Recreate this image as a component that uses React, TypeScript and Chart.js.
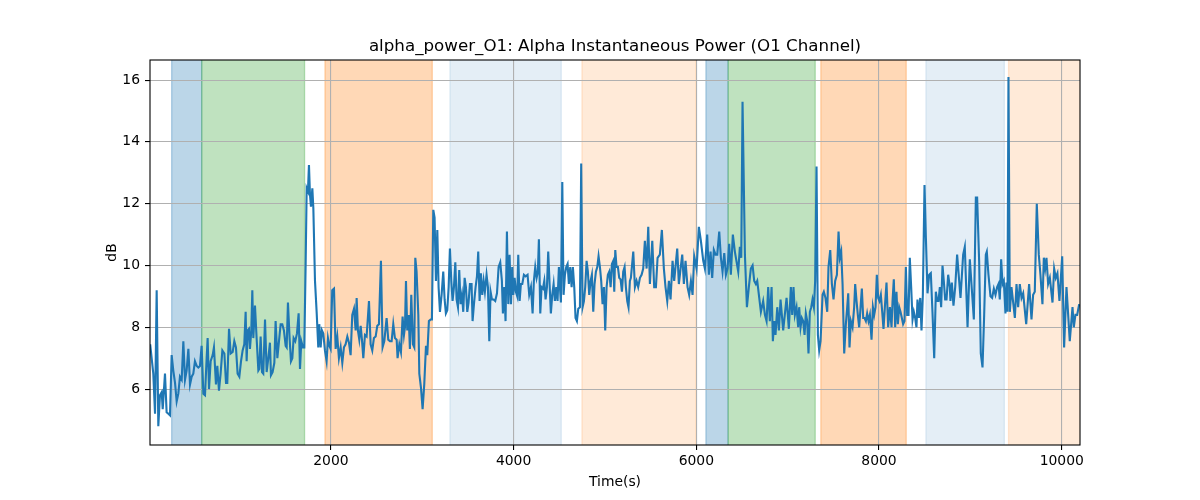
import { useEffect, useRef } from "react";
import { Chart, registerables } from "chart.js";

Chart.register(...registerables);

const TITLE = "alpha_power_O1: Alpha Instantaneous Power (O1 Channel)";
const X_LABEL = "Time(s)";
const Y_LABEL = "dB";
const X_TICKS = [2000, 4000, 6000, 8000, 10000];
const Y_TICKS = [6, 8, 10, 12, 14, 16];
const X_MIN = 20;
const X_MAX = 10200;
const Y_MIN = 4.19;
const Y_MAX = 16.65;

// shaded phases (seconds)
const SPAN_START = [257, 586, 1935, 3303, 4748, 6105, 6348, 7363, 8513, 9418];
const SPAN_END = [586, 1712, 3110, 4522, 5995, 6348, 7302, 8298, 9372, 10250];
const SPAN_KIND = ["blue", "green", "orange", "lightblue", "lightorange", "blue", "green", "orange", "lightblue", "lightorange"];

// alpha power samples: time (s) and value (dB)
const SEG1_T = [22, 56, 75, 93, 111, 129, 148, 159, 184, 202, 221, 239, 257, 275, 294, 312, 330, 348, 367, 385, 403, 421, 440, 458, 476, 494, 512, 531, 549, 567, 585, 604, 622, 640, 651, 666, 684, 706, 720, 742, 757, 775, 793, 812, 834, 852, 866, 885, 903, 925, 943, 961, 979, 998, 1016, 1034, 1052, 1067, 1078, 1089, 1103, 1114, 1129, 1140, 1151, 1169, 1187, 1206, 1216, 1231, 1246, 1260, 1279, 1297, 1315, 1333, 1344, 1362, 1381, 1395, 1414, 1432, 1450, 1468, 1486, 1505, 1516, 1530, 1548, 1563, 1578, 1592, 1610, 1629, 1647, 1662, 1676, 1694, 1709, 1724, 1735, 1749, 1760, 1771];
const SEG1_V = [7.45, 6.5, 5.2, 9.2, 4.8, 5.8, 5.9, 5.35, 6.5, 5.25, 5.2, 5.15, 7.1, 6.6, 6.2, 5.6, 5.85, 6.4, 6.3, 7.55, 6.3, 6.6, 7.3, 6.15, 6.4, 6.5, 6.9, 6.75, 6.7, 6.75, 7.4, 5.85, 5.8, 7.0, 7.65, 6.0, 6.9, 7.1, 7.35, 6.15, 6.75, 5.95, 6.5, 7.25, 7.15, 6.2, 6.2, 7.95, 7.15, 7.2, 7.55, 7.35, 6.5, 6.4, 6.9, 7.25, 7.45, 8.5, 6.9, 7.9, 7.95, 7.3, 7.9, 9.2, 7.65, 8.7, 7.65, 6.6, 6.65, 7.7, 6.55, 6.5, 8.25, 6.55, 7.0, 7.5, 6.45, 6.55, 6.85, 8.2, 7.0, 7.55, 8.1, 8.1, 7.9, 7.4, 7.35, 8.8, 7.65, 6.9, 7.0, 7.65, 7.55, 7.8, 8.45, 6.65, 7.55, 7.35, 7.35, 10.1, 12.5, 12.4, 13.25, 12.3];

const SEG2_T = [1782, 1797, 1808, 1826, 1844, 1862, 1873, 1888, 1902, 1917, 1935, 1953, 1968, 1983, 1997, 2015, 2034, 2052, 2070, 2088, 2107, 2125, 2143, 2161, 2180, 2198, 2216, 2234, 2253, 2271, 2282, 2296, 2311, 2326, 2340, 2355, 2373, 2391, 2417, 2435, 2453, 2471, 2490, 2508, 2526, 2548, 2566, 2585, 2610, 2628, 2647, 2665, 2683, 2701, 2720, 2730, 2749, 2767, 2785, 2800, 2811, 2822, 2836, 2851, 2865, 2880, 2898, 2913, 2924, 2938, 2957, 2968, 2986, 3004, 3022, 3041, 3055, 3073, 3092, 3106, 3121, 3135, 3150, 3165, 3179, 3194, 3212, 3230, 3245, 3259, 3274, 3289, 3303, 3318, 3332, 3347, 3362, 3376, 3391, 3405, 3420, 3435, 3449, 3464, 3478, 3493, 3507, 3522];
const SEG2_V = [11.9, 12.5, 11.85, 9.5, 8.5, 7.35, 8.1, 7.35, 7.9, 7.8, 7.25, 6.9, 7.65, 7.4, 7.3, 9.2, 9.25, 7.3, 7.7, 7.0, 7.35, 6.85, 7.35, 7.45, 7.7, 7.5, 7.1, 8.4, 8.6, 7.9, 8.95, 7.9, 7.6, 8.05, 7.6, 7.0, 7.75, 7.7, 8.85, 7.45, 7.25, 7.65, 7.7, 8.05, 8.1, 10.15, 7.35, 7.55, 8.3, 7.6, 7.55, 7.55, 8.1, 7.65, 7.6, 7.0, 7.45, 7.2, 8.35, 7.75, 8.0, 9.5, 7.9, 8.4, 7.3, 9.05, 7.45, 7.35, 10.25, 9.8, 8.4, 6.5, 6.05, 5.35, 6.15, 7.4, 7.1, 8.2, 8.25, 8.25, 11.8, 11.55, 9.5, 11.15, 9.3, 8.5, 9.05, 9.8, 8.9, 8.45, 8.55, 9.3, 10.55, 9.5, 8.85, 9.3, 10.1, 8.9, 8.65, 9.85, 8.75, 9.05, 8.5, 9.6, 9.3, 8.5, 8.8, 9.4];

const SEG3_T = [3540, 3551, 3566, 3584, 3599, 3613, 3628, 3642, 3657, 3672, 3686, 3704, 3719, 3734, 3748, 3763, 3781, 3799, 3818, 3836, 3854, 3872, 3883, 3898, 3912, 3927, 3942, 3956, 3971, 3985, 3996, 4011, 4025, 4040, 4051, 4066, 4080, 4095, 4113, 4131, 4153, 4171, 4190, 4208, 4222, 4237, 4252, 4266, 4277, 4292, 4306, 4321, 4336, 4350, 4365, 4379, 4394, 4408, 4423, 4438, 4452, 4467, 4481, 4496, 4507, 4518, 4533, 4547, 4562, 4576, 4591, 4605, 4620, 4635, 4649, 4664, 4678, 4693, 4708, 4726, 4740, 4755, 4770, 4784, 4799, 4813, 4828, 4843, 4857, 4872, 4886, 4901, 4916, 4930, 4945, 4959, 4974, 4989, 5003, 5018, 5032, 5047, 5062, 5076, 5091, 5102, 5113, 5127, 5142, 5156, 5171, 5186, 5200, 5215, 5229, 5244, 5258, 5273];
const SEG3_V = [9.4, 8.2, 8.75, 9.3, 9.65, 10.45, 8.85, 9.75, 9.05, 9.5, 9.15, 9.7, 9.3, 7.55, 9.15, 8.9, 8.9, 8.85, 9.1, 9.95, 10.1, 9.5, 8.45, 9.3, 8.2, 11.1, 8.75, 10.35, 8.75, 9.95, 9.05, 9.6, 9.15, 9.0, 10.35, 8.85, 9.4, 9.4, 9.7, 9.65, 9.7, 9.05, 9.3, 8.45, 9.5, 9.95, 9.6, 9.8, 10.85, 8.45, 9.3, 9.25, 9.5, 8.9, 9.3, 10.45, 9.4, 8.45, 9.05, 9.4, 8.85, 9.3, 8.85, 9.95, 9.3, 8.8, 12.7, 9.05, 9.7, 9.95, 10.05, 9.4, 9.95, 9.3, 9.95, 9.3, 8.3, 8.2, 8.6, 8.65, 13.3, 8.65, 8.85, 9.3, 10.15, 9.8, 9.05, 9.5, 9.7, 8.5, 9.4, 9.8, 9.95, 10.3, 9.95, 9.5, 8.75, 9.3, 7.9, 9.3, 9.7, 9.8, 9.3, 10.05, 10.15, 9.15, 10.5, 9.95, 9.95, 9.6, 9.55, 9.15, 9.8, 9.95, 9.3, 8.85, 8.65, 9.5];

const SEG4_T = [5284, 5310, 5328, 5346, 5364, 5383, 5401, 5419, 5437, 5456, 5474, 5492, 5518, 5539, 5558, 5576, 5601, 5623, 5645, 5663, 5682, 5700, 5718, 5740, 5758, 5791, 5809, 5828, 5846, 5864, 5882, 5904, 5922, 5941, 5959, 5977, 6003, 6028, 6050, 6076, 6094, 6119, 6138, 6156, 6174, 6192, 6211, 6229, 6251, 6269, 6287, 6306, 6324, 6342, 6360, 6378, 6400, 6422, 6459, 6477, 6492, 6506, 6532, 6554, 6575, 6597, 6616, 6634, 6652, 6667, 6685, 6707, 6732, 6751, 6769, 6787, 6805, 6824, 6838, 6853, 6867, 6886, 6904, 6922, 6951, 6988, 7013];
const SEG4_V = [9.6, 10.45, 9.3, 9.5, 9.3, 9.6, 9.7, 9.9, 10.8, 9.9, 11.25, 9.4, 10.8, 9.3, 9.3, 10.25, 10.35, 11.15, 9.9, 9.3, 8.85, 9.5, 8.9, 10.15, 9.5, 10.55, 9.4, 9.9, 10.35, 9.4, 10.15, 9.3, 9.05, 9.5, 9.05, 10.3, 9.9, 11.25, 10.8, 10.15, 9.9, 11.0, 9.7, 10.45, 9.6, 10.5, 10.35, 10.35, 11.1, 10.25, 9.8, 10.4, 9.7, 9.9, 10.7, 9.7, 11.0, 10.45, 9.8, 10.6, 10.25, 15.3, 10.35, 8.65, 9.3, 9.9, 10.0, 9.5, 9.4, 9.5, 9.05, 8.5, 8.85, 8.4, 8.2, 9.3, 8.2, 9.3, 7.55, 8.2, 7.75, 8.65, 7.9, 8.9, 7.9, 8.95, 7.95];

const SEG5_T = [7035, 7050, 7064, 7079, 7097, 7115, 7126, 7141, 7155, 7170, 7185, 7199, 7214, 7228, 7243, 7258, 7272, 7287, 7301, 7316, 7331, 7345, 7360, 7382, 7396, 7414, 7433, 7447, 7466, 7484, 7502, 7520, 7539, 7557, 7571, 7586, 7601, 7619, 7637, 7652, 7663, 7677, 7692, 7710, 7728, 7739, 7754, 7768, 7783, 7798, 7812, 7827, 7841, 7856, 7870, 7885, 7900, 7918, 7933, 7947, 7962, 7976, 7991, 8005, 8020, 8035, 8049, 8064, 8082, 8100, 8119, 8137, 8148, 8162, 8177, 8191, 8206, 8221, 8235, 8250, 8264, 8279, 8294, 8308, 8323, 8337, 8352, 8367, 8381, 8396, 8410, 8421, 8436, 8451, 8465, 8480, 8498, 8513, 8531, 8549, 8567, 8585, 8604, 8622, 8637, 8651, 8666, 8680, 8695, 8709, 8724, 8739, 8757, 8775];
const SEG5_V = [9.3, 8.4, 9.3, 8.4, 8.65, 8.0, 8.65, 8.0, 8.3, 8.2, 7.75, 8.45, 8.2, 7.15, 8.5, 8.65, 8.9, 8.65, 9.5, 13.2, 7.75, 7.25, 7.55, 9.05, 9.15, 8.95, 8.5, 9.95, 10.5, 9.4, 8.9, 9.5, 9.7, 11.1, 10.25, 10.45, 9.4, 7.15, 8.1, 8.65, 9.1, 7.35, 8.2, 8.0, 8.65, 9.4, 8.85, 8.4, 8.0, 8.65, 9.25, 8.3, 8.3, 8.2, 8.45, 8.2, 8.4, 7.6, 8.65, 8.4, 8.65, 9.7, 8.95, 8.85, 9.05, 8.5, 7.95, 8.65, 9.45, 8.0, 8.65, 8.0, 8.85, 9.55, 8.0, 9.15, 8.1, 8.65, 8.5, 8.3, 8.1, 8.2, 9.95, 8.4, 8.4, 10.25, 9.3, 8.25, 8.5, 8.3, 8.0, 8.9, 8.3, 8.95, 7.9, 9.05, 12.6, 10.9, 9.1, 9.7, 9.75, 8.5, 7.0, 9.15, 8.85, 8.85, 9.3, 8.65, 10.0, 9.5, 8.9, 8.9, 9.7, 9.3];

const SEG6_T = [8782, 8797, 8815, 8834, 8855, 8892, 8921, 8939, 8969, 8994, 9038, 9060, 9074, 9096, 9114, 9133, 9151, 9169, 9180, 9198, 9220, 9238, 9257, 9275, 9293, 9308, 9322, 9337, 9352, 9366, 9384, 9395, 9406, 9417, 9432, 9450, 9487, 9505, 9523, 9541, 9560, 9578, 9611, 9643, 9669, 9687, 9705, 9727, 9749, 9767, 9789, 9804, 9819, 9833, 9851, 9870, 9899, 9917, 9935, 9953, 9975, 10005, 10026, 10052, 10088, 10118, 10132, 10150, 10169, 10191];
const SEG6_V = [8.85, 9.45, 8.7, 9.3, 10.35, 8.95, 10.35, 10.6, 8.0, 10.2, 8.25, 12.2, 12.2, 10.15, 7.15, 6.7, 8.4, 10.35, 10.45, 9.7, 9.0, 8.95, 9.25, 9.05, 9.3, 9.4, 8.9, 10.2, 9.4, 9.5, 8.45, 9.45, 8.5, 16.1, 8.5, 9.3, 8.3, 9.4, 8.65, 9.4, 8.95, 9.1, 8.1, 9.4, 8.25, 9.05, 9.15, 12.0, 10.35, 9.7, 8.75, 10.25, 9.9, 10.25, 9.4, 9.6, 8.8, 9.9, 9.6, 9.75, 8.85, 10.3, 7.35, 9.3, 7.55, 8.65, 8.0, 8.4, 8.4, 8.75];

const TIMES = [...SEG1_T, ...SEG2_T, ...SEG3_T, ...SEG4_T, ...SEG5_T, ...SEG6_T];
const VALUES = [...SEG1_V, ...SEG2_V, ...SEG3_V, ...SEG4_V, ...SEG5_V, ...SEG6_V];

const SPAN_STYLE: Record<string, string> = {
  blue: "rgba(31,119,180,0.3)",
  green: "rgba(44,160,44,0.3)",
  orange: "rgba(255,127,14,0.3)",
  lightblue: "rgba(31,119,180,0.12)",
  lightorange: "rgba(255,127,14,0.16)",
};

const FONT = "'DejaVu Sans', 'Liberation Sans', sans-serif";

const decorPlugin = {
  id: "decor",
  beforeDraw(chart: any) {
    const { ctx, chartArea: a, scales } = chart;
    const x = scales.x;
    ctx.save();
    ctx.fillStyle = "#ffffff";
    ctx.fillRect(0, 0, chart.width, chart.height);
    ctx.beginPath();
    ctx.rect(a.left, a.top, a.right - a.left, a.bottom - a.top);
    ctx.clip();
    for (let i = 0; i < SPAN_START.length; i++) {
      const x0 = x.getPixelForValue(SPAN_START[i]);
      const x1 = x.getPixelForValue(SPAN_END[i]);
      const c = SPAN_STYLE[SPAN_KIND[i]];
      ctx.fillStyle = c;
      ctx.fillRect(x0, a.top, x1 - x0, a.bottom - a.top);
      ctx.strokeStyle = c;
      ctx.lineWidth = 1.3;
      ctx.beginPath();
      ctx.moveTo(x0, a.top);
      ctx.lineTo(x0, a.bottom);
      ctx.moveTo(x1, a.top);
      ctx.lineTo(x1, a.bottom);
      ctx.stroke();
    }
    ctx.restore();
  },
  afterDraw(chart: any) {
    const { ctx, chartArea: a } = chart;
    ctx.save();
    ctx.strokeStyle = "#000000";
    ctx.lineWidth = 1.1;
    ctx.strokeRect(a.left, a.top, a.right - a.left, a.bottom - a.top);
    ctx.fillStyle = "#000000";
    ctx.textAlign = "center";
    ctx.textBaseline = "alphabetic";
    ctx.font = `16.7px ${FONT}`;
    ctx.fillText(TITLE, (a.left + a.right) / 2, a.top - 9);
    ctx.font = `13.9px ${FONT}`;
    ctx.fillText(X_LABEL, (a.left + a.right) / 2, a.bottom + 41);
    ctx.translate(a.left - 34, (a.top + a.bottom) / 2);
    ctx.rotate(-Math.PI / 2);
    ctx.fillText(Y_LABEL, 0, 0);
    ctx.restore();
  },
};

export default function App() {
  const ref = useRef<HTMLCanvasElement | null>(null);
  useEffect(() => {
    document.body.style.margin = "0";
    if (!ref.current) return;
    const points = TIMES.map((t, i) => ({ x: t, y: VALUES[i] }));
    const chart = new Chart(ref.current, {
      type: "line",
      data: {
        datasets: [
          {
            label: "alpha_power_O1",
            data: points,
            borderColor: "#1f77b4",
            backgroundColor: "#1f77b4",
            borderWidth: 2.1,
            pointRadius: 0,
            tension: 0,
            fill: false,
          },
        ],
      },
      options: {
        animation: false,
        responsive: false,
        devicePixelRatio: 1,
        events: [],
        layout: { padding: { top: 60, right: 120, left: 0, bottom: 0 } },
        plugins: {
          legend: { display: false },
          title: { display: false },
          tooltip: { enabled: false },
        },
        scales: {
          x: {
            type: "linear",
            min: X_MIN,
            max: X_MAX,
            afterBuildTicks: (s: any) => {
              s.ticks = X_TICKS.map((v) => ({ value: v }));
            },
            afterFit: (s: any) => {
              s.height = 55;
            },
            ticks: {
              autoSkip: false,
              maxRotation: 0,
              padding: 3,
              color: "#000000",
              font: { family: FONT, size: 13.9 },
              callback: (v: any) => String(v),
            },
            grid: {
              color: "#b0b0b0",
              lineWidth: 1.1,
              tickColor: "#000000",
              tickLength: 5,
              drawTicks: true,
            },
            border: { display: false },
          },
          y: {
            type: "linear",
            min: Y_MIN,
            max: Y_MAX,
            afterBuildTicks: (s: any) => {
              s.ticks = Y_TICKS.map((v) => ({ value: v }));
            },
            afterFit: (s: any) => {
              s.width = 150;
            },
            ticks: {
              padding: 5,
              color: "#000000",
              font: { family: FONT, size: 13.9 },
              callback: (v: any) => String(v),
            },
            grid: {
              color: "#b0b0b0",
              lineWidth: 1.1,
              tickColor: "#000000",
              tickLength: 5,
              drawTicks: true,
            },
            border: { display: false },
          },
        },
      },
      plugins: [decorPlugin],
    });
    return () => chart.destroy();
  }, []);
  return (
    <div style={{ width: 1200, height: 500 }}>
      <canvas ref={ref} width={1200} height={500} style={{ display: "block" }} />
    </div>
  );
}
